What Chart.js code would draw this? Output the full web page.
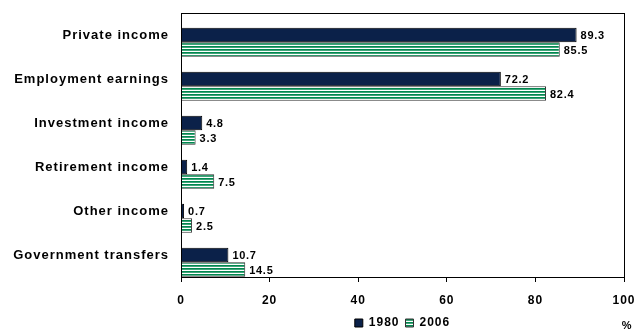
<!DOCTYPE html>
<html>
<head>
<meta charset="utf-8">
<script src="https://cdn.jsdelivr.net/npm/chart.js@4.4.1/dist/chart.umd.min.js"></script>
<style>
  html, body { margin: 0; padding: 0; background: #ffffff; }
  #wrap { width: 634px; height: 331px; position: relative; }
</style>
</head>
<body>
<div id="wrap"><canvas id="c"></canvas></div>
<script>
// Income sources, share of total (%)
const categories = ['Private income', 'Employment earnings', 'Investment income',
                    'Retirement income', 'Other income', 'Government transfers'];
const values1980 = [89.3, 72.2, 4.8, 1.4, 0.7, 10.7];
const values2006 = [85.5, 82.4, 3.3, 7.5, 2.5, 14.5];
const seriesNames = ['1980', '2006'];
const xTicks = [0, 20, 40, 60, 80, 100];
// empty leading slot so each pair of bars sits in the lower part of its band
const spacerSlot = categories.map(() => null);

const NAVY = '#0b2149';
const GREEN = '#00884f';
const FONT = '"Liberation Sans", Arial, sans-serif';
const SPACING = '1px';

// Horizontal green/white stripe fill for the second series
function stripePattern() {
  const p = document.createElement('canvas');
  p.width = 4; p.height = 3;
  const g = p.getContext('2d');
  g.fillStyle = '#ffffff'; g.fillRect(0, 0, 4, 3);
  g.fillStyle = GREEN; g.fillRect(0, 1, 4, 1);
  g.fillStyle = '#3fa379'; g.fillRect(0, 2, 4, 1);
  return document.getElementById('c').getContext('2d').createPattern(p, 'repeat');
}
const stripes = stripePattern();

// Slightly spaced lettering for all chart text
const spacing = {
  id: 'spacing',
  beforeUpdate(chart) { chart.ctx.letterSpacing = SPACING; },
  beforeDraw(chart) { chart.ctx.letterSpacing = SPACING; }
};

// Frame around the plot area
const frame = {
  id: 'frame',
  afterDraw(chart) {
    const { ctx, chartArea: a } = chart;
    ctx.save();
    ctx.strokeStyle = '#000';
    ctx.lineWidth = 1;
    ctx.strokeRect(Math.round(a.left) + 0.5, Math.round(a.top) + 0.5,
                   Math.round(a.right - a.left), Math.round(a.bottom - a.top));
    ctx.restore();
  }
};

// Value labels at bar ends, and the unit marker
const valueLabels = {
  id: 'valueLabels',
  afterDatasetsDraw(chart) {
    const { ctx } = chart;
    ctx.save();
    ctx.letterSpacing = '0.7px';
    ctx.font = 'bold 11px ' + FONT;
    ctx.fillStyle = '#000';
    ctx.textAlign = 'left';
    ctx.textBaseline = 'middle';
    chart.data.datasets.forEach((ds, i) => {
      if (!ds.label) return;
      chart.getDatasetMeta(i).data.forEach((bar, j) => {
        ctx.fillText(ds.data[j].toFixed(1), bar.x + 4, bar.y + 1);
      });
    });
    ctx.font = 'bold 11px ' + FONT;
    ctx.textAlign = 'center';
    ctx.fillText('%', 627, 326);
    ctx.restore();
  }
};

new Chart(document.getElementById('c'), {
  type: 'bar',
  data: {
    labels: categories,
    datasets: [
      { label: '', data: spacerSlot, backgroundColor: 'rgba(0,0,0,0)', borderWidth: 0 },
      { label: seriesNames[0], data: values1980, backgroundColor: NAVY,
        borderColor: '#000', borderWidth: 1 },
      { label: seriesNames[1], data: values2006, backgroundColor: stripes,
        borderColor: '#333', borderWidth: 1 }
    ]
  },
  options: {
    indexAxis: 'y',
    responsive: true,
    maintainAspectRatio: false,
    animation: false,
    devicePixelRatio: 1,
    layout: { padding: { top: 13, right: 10, left: 0, bottom: -8 } },
    datasets: { bar: { categoryPercentage: 0.99, barPercentage: 1.0, skipNull: false } },
    scales: {
      x: {
        min: 0, max: 100,
        afterBuildTicks(scale) { scale.ticks = xTicks.map(v => ({ value: v })); },
        grid: { drawOnChartArea: false, drawTicks: true, tickLength: 5, color: '#000' },
        border: { display: true, color: '#000' },
        ticks: { color: '#000', font: { family: FONT, weight: 'bold', size: 12 }, padding: 11,
                 maxRotation: 0 },
        afterFit(scale) { scale.height = 34; scale.paddingRight = 0; scale.paddingLeft = 0; }
      },
      y: {
        grid: { display: false },
        border: { display: true, color: '#000' },
        ticks: { color: '#000', font: { family: FONT, weight: 'bold', size: 13 }, padding: 4 },
        afterFit(scale) { scale.width = 181; scale.paddingTop = 0; scale.paddingBottom = 0; }
      }
    },
    plugins: {
      legend: {
        position: 'bottom',
        fullSize: false,
        labels: {
          boxWidth: 8, boxHeight: 8, color: '#000', padding: 6,
          font: { family: FONT, weight: 'bold', size: 12 },
          filter: item => item.text !== ''
        }
      },
      tooltip: { enabled: false }
    }
  },
  plugins: [spacing, frame, valueLabels]
});
</script>
</body>
</html>
